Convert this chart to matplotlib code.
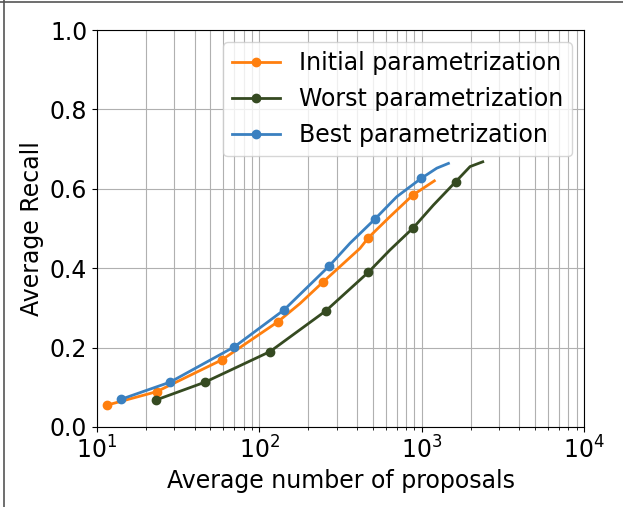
import matplotlib
matplotlib.use("Agg")
import matplotlib.pyplot as plt
from matplotlib.lines import Line2D

# average number of proposals vs average recall
init_x = [11.5, 23.3, 58.7, 130, 178, 248, 417, 470, 638, 881, 1197]
init_y = [0.055, 0.089, 0.169, 0.265, 0.311, 0.366, 0.450, 0.477, 0.530, 0.584, 0.620]
init_marks = [0, 1, 2, 3, 5, 7, 9]

worst_x = [23.1, 46.3, 116.4, 257.6, 470, 638, 889, 1181, 1622, 1987, 2378]
worst_y = [0.068, 0.113, 0.190, 0.293, 0.390, 0.446, 0.502, 0.559, 0.618, 0.656, 0.668]
worst_marks = [0, 1, 2, 3, 4, 6, 8]

best_x = [14.1, 28.2, 70.2, 142, 270, 362, 516, 702, 991, 1239, 1462]
best_y = [0.070, 0.113, 0.202, 0.295, 0.406, 0.463, 0.524, 0.580, 0.626, 0.652, 0.664]
best_marks = [0, 1, 2, 3, 4, 6, 8]

plt.rcParams["font.size"] = 17

fig = plt.figure(figsize=(6.23, 5.07), dpi=100)
ax = fig.add_axes([0.1557, 0.1578, 0.7817, 0.783])

ax.plot(init_x, init_y, color="#ff7f0e", lw=2, marker="o", ms=6, markevery=init_marks, label="Initial parametrization")
ax.plot(worst_x, worst_y, color="#354a21", lw=2, marker="o", ms=6, markevery=worst_marks, label="Worst parametrization")
ax.plot(best_x, best_y, color="#3a80c0", lw=2, marker="o", ms=6, markevery=best_marks, label="Best parametrization")

ax.set_xscale("log")
ax.set_xlim(10, 1e4)
ax.set_ylim(0, 1)
ax.set_yticks([0.0, 0.2, 0.4, 0.6, 0.8, 1.0])
ax.grid(True, which="both", color="#b0b0b0", lw=0.8)
ax.set_xlabel("Average number of proposals")
ax.set_ylabel("Average Recall")
ax.legend(loc="upper right", fontsize=17)

# border of the original figure
fig.add_artist(Line2D([0.0065, 0.0065], [0, 1], color="#555555", lw=1.2))
fig.add_artist(Line2D([0, 1], [0.996, 0.996], color="#555555", lw=1.2))

fig.savefig("out.png", dpi=100)
